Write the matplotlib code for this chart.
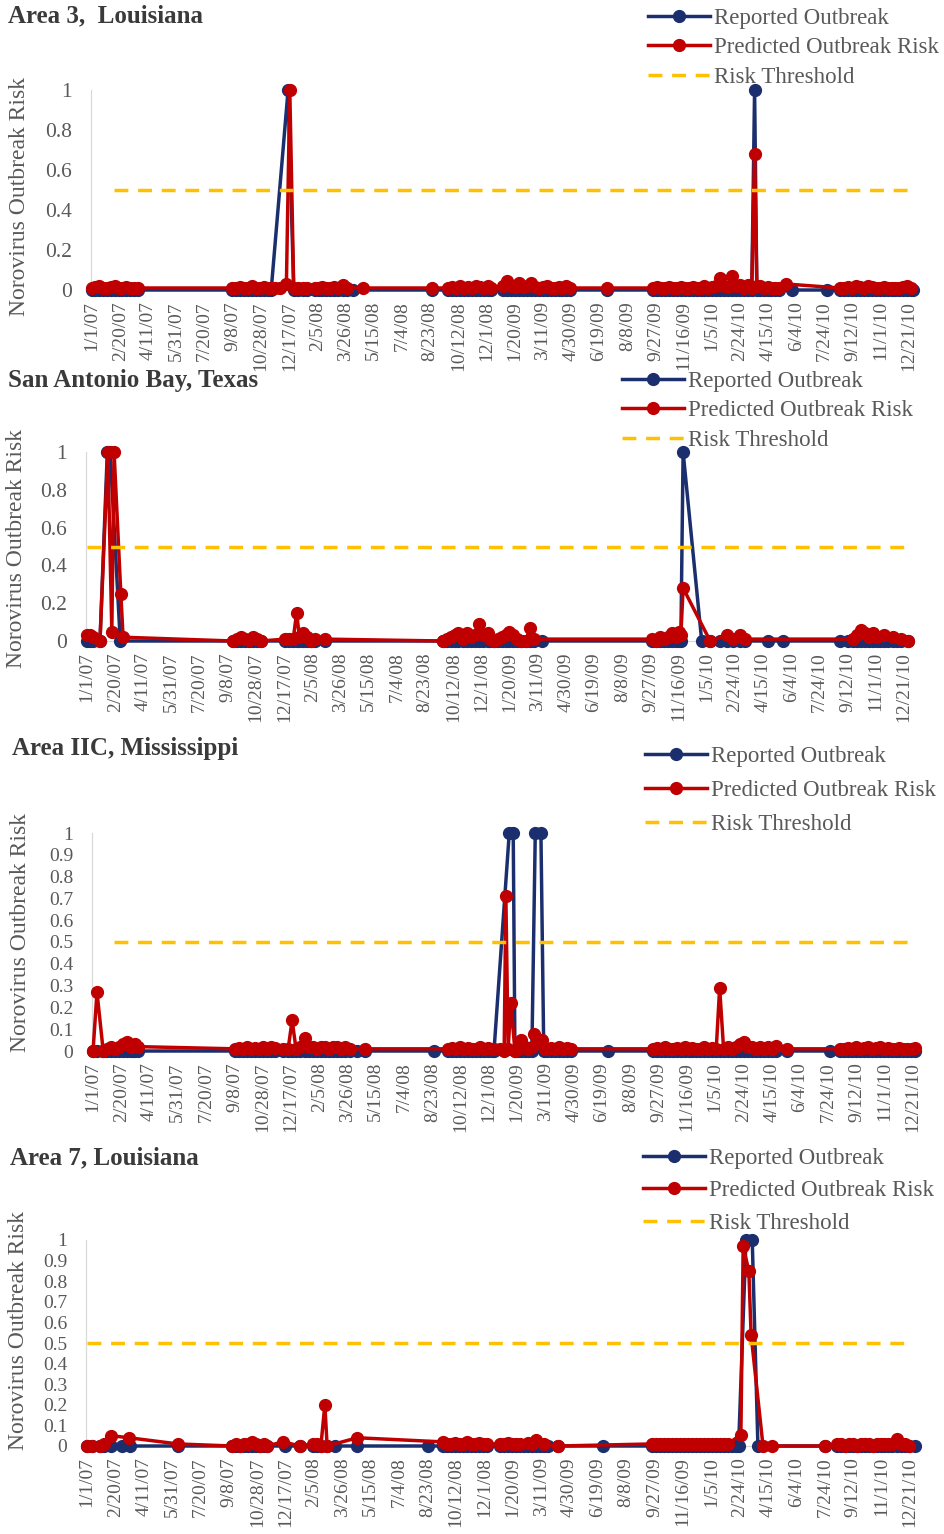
import numpy as np
import pandas as pd
import matplotlib
matplotlib.use('Agg')
import matplotlib.pyplot as plt
import matplotlib.dates as mdates
from matplotlib.ticker import FixedLocator, FuncFormatter, MultipleLocator

plt.rcParams['font.family'] = ['Liberation Serif', 'DejaVu Serif']

N = None
START = np.datetime64('2007-01-01')
tick_dates = pd.date_range('2007-01-01', periods=30, freq='50D')
series_names = ['Reported Outbreak', 'Predicted Outbreak Risk', 'Risk Threshold']
threshold_value = 0.5

# ---------------- Area 3, Louisiana ----------------
p1_days = [0, 6, 12, 19, 26, 33, 40, 47, 54, 61, 68, 75, 82,
           249, 256, 263, 270, 277, 284, 291, 298, 305, 312, 318, 325, 333,
           345, 348, 351, 358,
           366, 374, 382, 395, 402, 409, 416, 423, 430, 437, 445, 452, 463, 481,
           603,
           632, 639, 646, 653, 660, 667, 674, 681, 688, 695, 702, 709,
           730, 737, 744, 751, 758, 765, 772, 779, 786, 793, 800, 807, 814, 821, 828, 835, 842, 848,
           914,
           996, 1003, 1010, 1017, 1024, 1031, 1038, 1045, 1052, 1059, 1066, 1073, 1080, 1087, 1094, 1101, 1108, 1115, 1122, 1129, 1136, 1143, 1150, 1157, 1164, 1171,
           1176, 1180,
           1185, 1192, 1199, 1206, 1213, 1220,
           1232, 1242, 1304,
           1328, 1335, 1342, 1349, 1356, 1363, 1370, 1377, 1384, 1391, 1398, 1405, 1412, 1419, 1426, 1433, 1440, 1447, 1454, 1458]
p1_reported = [0, 0, 0, 0, 0, 0, 0, 0, 0, 0, 0, 0, 0,
               0, 0, 0, 0, 0, 0, 0, 0, 0, 0, 0, N, N,
               N, 1, N, 0,
               0, 0, 0, 0, 0, 0, 0, 0, 0, 0, 0, 0, 0, N,
               0,
               0, 0, 0, 0, 0, 0, 0, 0, 0, 0, 0, 0,
               0, 0, 0, 0, 0, 0, 0, 0, 0, 0, 0, 0, 0, 0, 0, 0, 0, 0,
               0,
               0, 0, 0, 0, 0, 0, 0, 0, 0, 0, 0, 0, 0, 0, 0, 0, 0, 0, 0, 0, 0, 0, 0, 0, 0, 0,
               1, 0,
               0, 0, 0, 0, 0, 0,
               N, 0, 0,
               0, 0, 0, 0, 0, 0, 0, 0, 0, 0, 0, 0, 0, 0, 0, 0, 0, 0, 0, 0]
p1_predicted = [.01, .015, .02, .01, .01, .015, .02, .01, .01, .015, .01, .01, .01,
                .01, .01, .015, .01, .01, .02, .01, .01, .015, .01, .01, .01, .01,
                .03, N, 1.0, .01,
                .01, .01, .01, .01, .01, .015, .01, .01, .015, .01, .025, .01, N, .01,
                .01,
                .01, .015, .01, .02, .01, .015, .01, .02, .015, .01, .02, .01,
                .02, .045, .02, .015, .035, .015, .02, .035, .015, .01, .015, .02, .01, .01, .015, .01, .02, .01,
                .01,
                .01, .015, .01, .01, .015, .01, .01, .015, .01, .01, .015, .01, .01, .02, .01, .015, .02, .06, .02, .015, .07, .02, .025, .01, .025, .01,
                .68, .02,
                .02, .01, .015, .01, .01, .01,
                .03, N, N,
                .01, .01, .015, .01, .02, .015, .01, .02, .015, .01, .01, .015, .01, .01, .01, .01, .015, .02, .01, N]

# ---------------- San Antonio Bay, Texas ----------------
p2_days = [0, 5, 11, 23,
           36, 37, 41, 44, 48, 59, 60, 64,
           259, 266, 273, 280, 287, 294, 301, 308,
           352, 359, 366, 372, 377, 384, 391, 398, 405, 422,
           632, 639, 646, 653, 658, 667, 674, 681, 688, 695, 702, 711, 716, 723, 730, 737, 744, 749, 756, 763, 770, 779, 786, 793, 808,
           1003, 1010, 1017, 1024, 1031, 1038, 1045, 1050, 1054, 1058,
           1091, 1106, 1124, 1136, 1147, 1159, 1168, 1209, 1235,
           1336, 1351, 1360, 1367, 1374, 1381, 1388, 1395, 1402, 1407, 1414, 1422, 1430, 1437, 1445, 1458]
p2_reported = [0, 0, 0, 0,
               1, N, 1, N, N, 0, N, N,
               0, 0, 0, 0, 0, 0, 0, 0,
               0, 0, 0, 0, 0, 0, 0, 0, 0, 0,
               0, 0, 0, 0, 0, 0, 0, 0, 0, 0, 0, 0, 0, 0, 0, 0, 0, 0, 0, 0, 0, 0, 0, 0, 0,
               0, 0, 0, 0, 0, 0, 0, 0, 0, 1,
               0, 0, 0, 0, 0, 0, 0, 0, 0,
               0, 0, 0, 0, 0, 0, 0, 0, 0, 0, 0, 0, 0, 0, 0, 0]
p2_predicted = [.03, .03, .02, 0,
                N, 1.0, N, .05, 1.0, N, .25, .02,
                0, .01, .02, .01, .005, .02, .01, 0,
                .01, .01, .01, .15, .02, .04, .02, 0, .01, .01,
                0, .01, .02, .03, .04, .01, .04, .02, .03, .09, .03, .04, .01, 0, .01, .02, .03, .05, .03, .01, 0, 0, .07, .01, N,
                .01, 0, .02, .01, .02, .04, .02, .05, .03, .28,
                N, 0, N, .03, .01, .03, .01, N, N,
                N, N, .01, .03, .06, .04, .02, .04, .02, N, .03, N, .02, N, .01, 0]

# ---------------- Area IIC, Mississippi ----------------
p3_days = [0, 7, 18, 25, 32, 39, 46, 53, 60, 67, 71, 74, 80,
           251, 258, 265, 272, 279, 286, 293, 300, 307, 314, 321,
           336, 345, 352, 359, 366, 375, 382, 389, 396, 403, 410, 417, 424, 431, 438, 445, 455, 467, 481,
           603,
           628, 635, 642, 649, 656, 663, 670, 677, 684, 691, 698, 705, 709,
           720, 727, 730, 734, 736, 739, 743, 746,
           752, 757, 763, 770, 776, 780, 782, 788, 792, 794, 797, 800,
           803, 810, 817, 824, 831, 838, 845,
           911,
           990, 997, 1004, 1011, 1018, 1025, 1032, 1039, 1046, 1053, 1060, 1067, 1074, 1081, 1088, 1095, 1102, 1108, 1115, 1122, 1130,
           1137, 1144, 1151, 1158, 1165, 1172, 1179, 1186, 1193, 1200, 1207, 1227,
           1303,
           1321, 1328, 1335, 1342, 1349, 1356, 1363, 1370, 1377, 1384, 1391, 1398, 1405, 1412, 1419, 1426, 1433, 1440, 1447, 1454]
p3_reported = [0, 0, 0, 0, 0, 0, 0, 0, 0, 0, 0, 0, 0,
               0, 0, 0, 0, 0, 0, 0, 0, 0, 0, 0,
               0, 0, 0, 0, 0, 0, 0, 0, 0, 0, 0, 0, 0, 0, 0, 0, 0, 0, 0,
               0,
               0, 0, 0, 0, 0, 0, 0, 0, 0, 0, 0, 0, 0,
               N, N, N, N, 1, N, 1, 0,
               0, 0, 0, 0, 0, N, 1, N, 1, N, 0, N,
               0, 0, 0, 0, 0, 0, 0,
               0,
               0, 0, 0, 0, 0, 0, 0, 0, 0, 0, 0, 0, 0, 0, 0, 0, 0, 0, 0, 0, 0,
               0, 0, 0, 0, 0, 0, 0, 0, 0, 0, 0, 0,
               0,
               0, 0, 0, 0, 0, 0, 0, 0, 0, 0, 0, 0, 0, 0, 0, 0, 0, 0, 0, 0]
p3_predicted = [0, .27, 0, .01, .02, .01, .02, .03, .04, .02, N, .03, .02,
                .01, .015, .01, .02, .01, .015, .01, .02, .01, .02, .015,
                .01, .01, .14, .01, .02, .06, .02, .02, .01, .02, .02, .01, .02, .02, .01, .02, .01, N, .01,
                N,
                .01, .015, .01, .02, .01, .015, .01, .01, .02, .01, .015, .01, .01,
                .01, 0, .71, .01, N, .22, N, 0,
                .01, .05, .02, .01, .02, .08, N, .04, N, .05, N, .01,
                .01, .015, .01, .02, .01, .015, .01,
                N,
                .01, .015, .01, .02, .01, .01, .015, .01, .02, .01, .015, .01, .01, .02, .01, .015, .01, .29, .01, .02, .01,
                .02, .03, .04, .02, .02, .01, .02, .01, .02, .01, .025, .01,
                N,
                .01, .01, .015, .01, .02, .01, .015, .02, .01, .015, .02, .01, .015, .01, .01, .015, .01, .01, .01, .015]

# ---------------- Area 7, Louisiana ----------------
p4_days = [0, 8, 22, 30, 42, 61, 74, 76,
           160,
           255, 262, 269, 276, 283, 290, 297, 304, 311, 317,
           345, 349, 376, 398, 405, 412, 419, 423, 437, 476,
           601,
           627, 634, 641, 648, 655, 662, 669, 676, 683, 690, 697, 705,
           728, 735, 742, 749, 756, 763, 770, 777, 784, 791, 798, 805, 812, 830,
           909,
           996, 1003, 1010, 1017, 1024, 1031, 1038, 1045, 1052, 1059, 1066, 1073, 1080, 1087, 1094, 1101, 1108, 1115, 1122, 1129, 1136, 1143, 1148,
           1152, 1156, 1161, 1166, 1170, 1172, 1182, 1191, 1207,
           1300,
           1321, 1328, 1335, 1342, 1349, 1356, 1363, 1370, 1377, 1384, 1391, 1398, 1405, 1412, 1419, 1427, 1434, 1441, 1448, 1458]
p4_reported = [0, 0, 0, 0, 0, 0, N, 0,
               0,
               0, 0, 0, 0, 0, 0, 0, 0, 0, 0,
               N, 0, 0, 0, 0, 0, N, 0, 0, 0,
               0,
               0, 0, 0, 0, 0, 0, 0, 0, 0, 0, 0, 0,
               0, 0, 0, 0, 0, 0, 0, 0, 0, 0, 0, 0, 0, 0,
               0,
               0, 0, 0, 0, 0, 0, 0, 0, 0, 0, 0, 0, 0, 0, 0, 0, 0, 0, 0, 0, 0, 0, 0,
               N, N, 1, N, N, 1, 0, N, N,
               0,
               0, 0, 0, 0, 0, 0, 0, 0, 0, 0, 0, 0, 0, 0, 0, 0, 0, 0, 0, 0]
p4_predicted = [0, 0, 0, .01, .05, N, .04, N,
                .01,
                0, .01, 0, .01, .01, .02, .01, 0, .01, 0,
                .02, N, 0, .01, .01, 0, .20, 0, N, .04,
                N,
                .02, .01, .01, .015, .01, .01, .02, .01, .01, .015, .01, .01,
                .01, .01, .015, .01, .01, .01, N, .015, .01, .03, N, .01, N, 0,
                N,
                .01, .01, .01, .01, .01, .01, .01, .01, .01, .01, .01, .01, .01, .01, .01, .01, .01, .01, .01, .01, N, N, N,
                .055, .97, N, .85, .54, N, N, 0, 0,
                0,
                .01, .01, 0, .01, .01, 0, .01, .01, .01, 0, .01, .01, .01, .01, .01, .035, .01, .01, 0, N]

titles = ['Area 3,  Louisiana', 'San Antonio Bay, Texas', 'Area IIC, Mississippi', 'Area 7, Louisiana']
threshold_spans = [(39, 1455), (0, 1455), (37, 1450), (0, 1445)]

# ---------------- layout (pixels) ----------------
W, H = 944, 1534
layout = [
    dict(left=90.9, right=914.6, top=90, bottom=290, title_xy=(8, 16), leg_xy=(648, 8), ylab_xy=(20, 196), ystep=0.2, yfs=15.5, lspace=0.36),
    dict(left=85.9, right=909.6, top=452, bottom=641, title_xy=(8, 381), leg_xy=(622, 371), ylab_xy=(17, 549), ystep=0.2, yfs=15.5, lspace=0.36),
    dict(left=91.9, right=918.7, top=833, bottom=1051, title_xy=(12, 749), leg_xy=(645, 746), ylab_xy=(21, 932), ystep=0.1, yfs=14, lspace=0.56),
    dict(left=85.9, right=915.7, top=1240, bottom=1446, title_xy=(10, 1158), leg_xy=(643, 1148), ylab_xy=(19, 1331), ystep=0.1, yfs=14, lspace=0.49),
]

BLUE = '#1B2F6E'
RED = '#C00000'
GOLD = '#FFC000'
GRAY = '#595959'
TITLE = '#3A3A3A'

fig = plt.figure(figsize=(W / 100, H / 100), dpi=100)


def to_dates(days):
    return START + np.array(days).astype('timedelta64[D]')


def fmt_date(x, pos=None):
    d = mdates.num2date(x)
    return f"{d.month}/{d.day}/{d.year % 100:02d}"


data = [(p1_days, p1_reported, p1_predicted),
        (p2_days, p2_reported, p2_predicted),
        (p3_days, p3_reported, p3_predicted),
        (p4_days, p4_reported, p4_predicted)]

for (days, rep, pred), title, span, L in zip(data, titles, threshold_spans, layout):
    ax = fig.add_axes([L['left'] / W, 1 - L['bottom'] / H,
                       (L['right'] - L['left']) / W, (L['bottom'] - L['top']) / H])
    d_all = np.array(days)
    rep_a = np.array([np.nan if v is None else v for v in rep], dtype=float)
    pred_a = np.array([np.nan if v is None else v for v in pred], dtype=float)
    mr = ~np.isnan(rep_a)
    mp = ~np.isnan(pred_a)
    ax.plot(to_dates(d_all[mr]), rep_a[mr], color=BLUE, lw=2.5, marker='o', ms=8.5,
            label=series_names[0], zorder=3, clip_on=False)
    ax.plot(to_dates(d_all[mp]), pred_a[mp], color=RED, lw=2.5, marker='o', ms=8.5,
            label=series_names[1], zorder=4, clip_on=False)
    thr, = ax.plot(to_dates(list(span)), [threshold_value, threshold_value], color=GOLD,
                   lw=2.5, label=series_names[2], zorder=5)
    thr.set_dashes((4.0, 2.8))

    ax.set_xlim(to_dates([-2])[0], to_dates([1460])[0])
    ax.set_ylim(0, 1)
    ax.xaxis.set_major_locator(FixedLocator(mdates.date2num(tick_dates.to_pydatetime())))
    ax.xaxis.set_major_formatter(FuncFormatter(fmt_date))
    ax.yaxis.set_major_locator(MultipleLocator(L['ystep']))
    ax.yaxis.set_major_formatter(FuncFormatter(lambda v, p: f"{v:g}"))
    ax.tick_params(axis='x', length=0, pad=8, labelsize=14, labelcolor=GRAY, labelrotation=90)
    ax.tick_params(axis='y', length=0, pad=13.5, labelsize=L['yfs'], labelcolor=GRAY)
    for s in ['top', 'right']:
        ax.spines[s].set_visible(False)
    for s in ['left', 'bottom']:
        ax.spines[s].set_color('#D9D9D9')
        ax.spines[s].set_linewidth(0.9)
    ax.set_facecolor('none')

    fig.text(L['title_xy'][0] / W, 1 - L['title_xy'][1] / H, title, ha='left', va='center',
             fontsize=18, fontweight='bold', color=TITLE)
    fig.text(L['ylab_xy'][0] / W, 1 - L['ylab_xy'][1] / H, 'Norovirus Outbreak Risk', rotation=90,
             ha='center', va='center', fontsize=17, color=GRAY)
    leg = ax.legend(loc='upper left', bbox_to_anchor=(L['leg_xy'][0] / W, 1 - L['leg_xy'][1] / H),
                    bbox_transform=fig.transFigure, frameon=False, fontsize=16.5, numpoints=1,
                    handlelength=2.7, handletextpad=0.2, labelspacing=L['lspace'],
                    borderpad=0, borderaxespad=0)
    for t in leg.get_texts():
        t.set_color(GRAY)

fig.savefig('out.png', dpi=100)
